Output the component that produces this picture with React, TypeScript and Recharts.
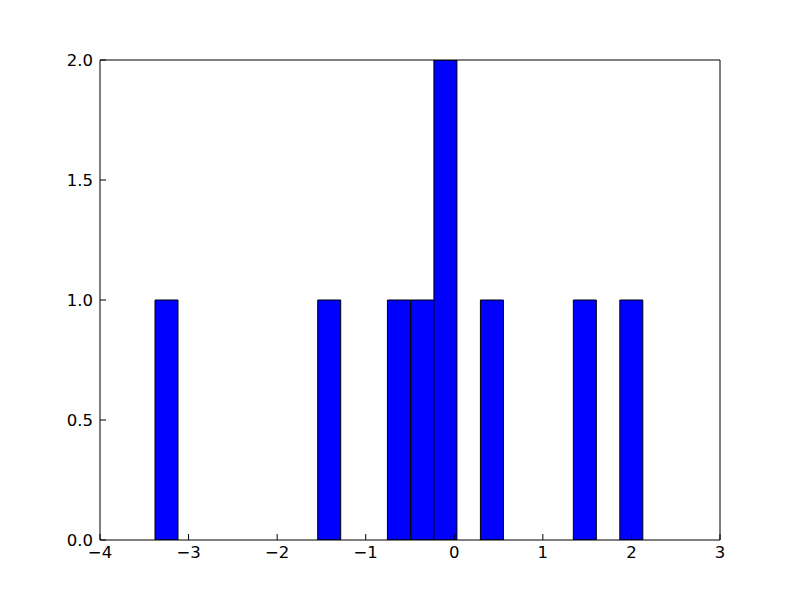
import React from 'react';
import { ComposedChart, Bar, XAxis, YAxis } from 'recharts';

// histogram bin centres and their counts
const binCenters = [-3.248, -1.411, -0.624, -0.361, -0.099, 0.426, 1.475, 2.0];
const counts = [1, 1, 1, 1, 2, 1, 1, 1];

const xTicks = [-4, -3, -2, -1, 0, 1, 2, 3];
const yTicks = [0, 0.5, 1, 1.5, 2];

const data = binCenters.map((x, i) => ({ x, count: counts[i] }));

const fmtX = (v: number) => String(v).replace('-', '\u2212');
const fmtY = (v: number) => v.toFixed(1);

const tickStyle = { fill: '#000', fontSize: 16.5, fontFamily: 'DejaVu Sans' };
const lineStyle = { stroke: '#000', strokeWidth: 1 };

export default function App() {
  return (
    <div style={{ position: 'fixed', left: 0, top: 0, background: '#fff' }}>
      <ComposedChart
        width={800}
        height={600}
        data={data}
        margin={{ top: 0, right: 0, bottom: 0, left: 0 }}
        barCategoryGap={0}
        barGap={0}
      >
        <XAxis
          dataKey="x"
          type="number"
          domain={[-4, 3]}
          ticks={xTicks}
          allowDataOverflow
          height={60}
          tickSize={-6}
          tickMargin={12}
          tickFormatter={fmtX}
          tick={tickStyle}
          axisLine={lineStyle}
          tickLine={lineStyle}
        />
        <XAxis
          xAxisId="top"
          orientation="top"
          type="number"
          domain={[-4, 3]}
          ticks={xTicks}
          allowDataOverflow
          height={60}
          tickSize={-6}
          tick={false}
          axisLine={lineStyle}
          tickLine={lineStyle}
        />
        <YAxis
          type="number"
          domain={[0, 2]}
          ticks={yTicks}
          allowDataOverflow
          width={100}
          tickSize={-6}
          tickMargin={13}
          tickFormatter={fmtY}
          tick={tickStyle}
          axisLine={lineStyle}
          tickLine={lineStyle}
        />
        <YAxis
          yAxisId="right"
          orientation="right"
          type="number"
          domain={[0, 2]}
          ticks={yTicks}
          allowDataOverflow
          width={80}
          tickSize={-6}
          tick={false}
          axisLine={lineStyle}
          tickLine={lineStyle}
        />
        <Bar
          dataKey="count"
          fill="#0000ff"
          stroke="#000"
          strokeWidth={1}
          isAnimationActive={false}
        />
      </ComposedChart>
    </div>
  );
}
